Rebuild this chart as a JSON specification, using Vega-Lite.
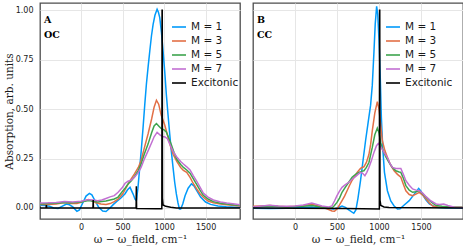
{
"$schema": "https://vega.github.io/schema/vega-lite/v6.json",
"padding": {"left": 3, "top": 2, "right": 2, "bottom": 0},
"spacing": 11,
"data": {"values": [
{"p":"A","s":"M = 1","x":-495,"y":0.013},{"p":"A","s":"M = 1","x":-440,"y":0.012},{"p":"A","s":"M = 1","x":-380,"y":0.008},{"p":"A","s":"M = 1","x":-330,"y":0.0},{"p":"A","s":"M = 1","x":-277,"y":-0.003},{"p":"A","s":"M = 1","x":-230,"y":0.008},{"p":"A","s":"M = 1","x":-177,"y":0.02},{"p":"A","s":"M = 1","x":-140,"y":0.016},{"p":"A","s":"M = 1","x":-100,"y":0.005},{"p":"A","s":"M = 1","x":-50,"y":-0.017},{"p":"A","s":"M = 1","x":-20,"y":-0.01},{"p":"A","s":"M = 1","x":20,"y":0.025},{"p":"A","s":"M = 1","x":60,"y":0.06},{"p":"A","s":"M = 1","x":100,"y":0.074},{"p":"A","s":"M = 1","x":130,"y":0.066},{"p":"A","s":"M = 1","x":170,"y":0.035},{"p":"A","s":"M = 1","x":210,"y":0.005},{"p":"A","s":"M = 1","x":260,"y":-0.016},{"p":"A","s":"M = 1","x":300,"y":-0.018},{"p":"A","s":"M = 1","x":345,"y":-0.002},{"p":"A","s":"M = 1","x":390,"y":0.018},{"p":"A","s":"M = 1","x":430,"y":0.033},{"p":"A","s":"M = 1","x":480,"y":0.05},{"p":"A","s":"M = 1","x":530,"y":0.072},{"p":"A","s":"M = 1","x":560,"y":0.092},{"p":"A","s":"M = 1","x":590,"y":0.104},{"p":"A","s":"M = 1","x":627,"y":0.07},{"p":"A","s":"M = 1","x":650,"y":0.045},{"p":"A","s":"M = 1","x":666,"y":0.037},{"p":"A","s":"M = 1","x":685,"y":0.1},{"p":"A","s":"M = 1","x":707,"y":0.205},{"p":"A","s":"M = 1","x":727,"y":0.3},{"p":"A","s":"M = 1","x":747,"y":0.407},{"p":"A","s":"M = 1","x":767,"y":0.52},{"p":"A","s":"M = 1","x":787,"y":0.626},{"p":"A","s":"M = 1","x":808,"y":0.715},{"p":"A","s":"M = 1","x":828,"y":0.794},{"p":"A","s":"M = 1","x":848,"y":0.87},{"p":"A","s":"M = 1","x":868,"y":0.929},{"p":"A","s":"M = 1","x":890,"y":0.975},{"p":"A","s":"M = 1","x":916,"y":1.005},{"p":"A","s":"M = 1","x":932,"y":0.99},{"p":"A","s":"M = 1","x":948,"y":0.963},{"p":"A","s":"M = 1","x":968,"y":0.89},{"p":"A","s":"M = 1","x":988,"y":0.794},{"p":"A","s":"M = 1","x":1008,"y":0.69},{"p":"A","s":"M = 1","x":1027,"y":0.576},{"p":"A","s":"M = 1","x":1048,"y":0.47},{"p":"A","s":"M = 1","x":1068,"y":0.374},{"p":"A","s":"M = 1","x":1088,"y":0.285},{"p":"A","s":"M = 1","x":1108,"y":0.205},{"p":"A","s":"M = 1","x":1128,"y":0.13},{"p":"A","s":"M = 1","x":1148,"y":0.071},{"p":"A","s":"M = 1","x":1168,"y":0.025},{"p":"A","s":"M = 1","x":1185,"y":-0.005},{"p":"A","s":"M = 1","x":1200,"y":-0.005},{"p":"A","s":"M = 1","x":1225,"y":0.02},{"p":"A","s":"M = 1","x":1253,"y":0.062},{"p":"A","s":"M = 1","x":1290,"y":0.1},{"p":"A","s":"M = 1","x":1330,"y":0.122},{"p":"A","s":"M = 1","x":1360,"y":0.112},{"p":"A","s":"M = 1","x":1394,"y":0.087},{"p":"A","s":"M = 1","x":1440,"y":0.055},{"p":"A","s":"M = 1","x":1500,"y":0.03},{"p":"A","s":"M = 1","x":1560,"y":0.018},{"p":"A","s":"M = 1","x":1650,"y":0.01},{"p":"A","s":"M = 1","x":1750,"y":0.006},{"p":"A","s":"M = 1","x":1850,"y":0.004},{"p":"A","s":"M = 1","x":1915,"y":0.004},
{"p":"A","s":"M = 3","x":-495,"y":0.017},{"p":"A","s":"M = 3","x":-400,"y":0.018},{"p":"A","s":"M = 3","x":-300,"y":0.02},{"p":"A","s":"M = 3","x":-200,"y":0.027},{"p":"A","s":"M = 3","x":-120,"y":0.022},{"p":"A","s":"M = 3","x":-50,"y":0.022},{"p":"A","s":"M = 3","x":0,"y":0.028},{"p":"A","s":"M = 3","x":50,"y":0.038},{"p":"A","s":"M = 3","x":88,"y":0.042},{"p":"A","s":"M = 3","x":130,"y":0.036},{"p":"A","s":"M = 3","x":180,"y":0.026},{"p":"A","s":"M = 3","x":240,"y":0.02},{"p":"A","s":"M = 3","x":300,"y":0.018},{"p":"A","s":"M = 3","x":350,"y":0.022},{"p":"A","s":"M = 3","x":400,"y":0.032},{"p":"A","s":"M = 3","x":446,"y":0.044},{"p":"A","s":"M = 3","x":500,"y":0.07},{"p":"A","s":"M = 3","x":540,"y":0.1},{"p":"A","s":"M = 3","x":566,"y":0.12},{"p":"A","s":"M = 3","x":600,"y":0.145},{"p":"A","s":"M = 3","x":643,"y":0.172},{"p":"A","s":"M = 3","x":690,"y":0.205},{"p":"A","s":"M = 3","x":723,"y":0.24},{"p":"A","s":"M = 3","x":760,"y":0.3},{"p":"A","s":"M = 3","x":807,"y":0.374},{"p":"A","s":"M = 3","x":850,"y":0.45},{"p":"A","s":"M = 3","x":880,"y":0.51},{"p":"A","s":"M = 3","x":908,"y":0.545},{"p":"A","s":"M = 3","x":935,"y":0.525},{"p":"A","s":"M = 3","x":965,"y":0.47},{"p":"A","s":"M = 3","x":1008,"y":0.42},{"p":"A","s":"M = 3","x":1040,"y":0.37},{"p":"A","s":"M = 3","x":1072,"y":0.32},{"p":"A","s":"M = 3","x":1110,"y":0.27},{"p":"A","s":"M = 3","x":1153,"y":0.235},{"p":"A","s":"M = 3","x":1200,"y":0.205},{"p":"A","s":"M = 3","x":1233,"y":0.19},{"p":"A","s":"M = 3","x":1273,"y":0.18},{"p":"A","s":"M = 3","x":1313,"y":0.155},{"p":"A","s":"M = 3","x":1350,"y":0.125},{"p":"A","s":"M = 3","x":1394,"y":0.096},{"p":"A","s":"M = 3","x":1433,"y":0.072},{"p":"A","s":"M = 3","x":1473,"y":0.054},{"p":"A","s":"M = 3","x":1530,"y":0.035},{"p":"A","s":"M = 3","x":1594,"y":0.026},{"p":"A","s":"M = 3","x":1680,"y":0.02},{"p":"A","s":"M = 3","x":1755,"y":0.016},{"p":"A","s":"M = 3","x":1850,"y":0.012},{"p":"A","s":"M = 3","x":1915,"y":0.01},
{"p":"A","s":"M = 5","x":-495,"y":0.02},{"p":"A","s":"M = 5","x":-400,"y":0.022},{"p":"A","s":"M = 5","x":-300,"y":0.024},{"p":"A","s":"M = 5","x":-200,"y":0.027},{"p":"A","s":"M = 5","x":-100,"y":0.026},{"p":"A","s":"M = 5","x":0,"y":0.03},{"p":"A","s":"M = 5","x":90,"y":0.037},{"p":"A","s":"M = 5","x":150,"y":0.034},{"p":"A","s":"M = 5","x":200,"y":0.03},{"p":"A","s":"M = 5","x":300,"y":0.035},{"p":"A","s":"M = 5","x":350,"y":0.04},{"p":"A","s":"M = 5","x":400,"y":0.045},{"p":"A","s":"M = 5","x":446,"y":0.055},{"p":"A","s":"M = 5","x":500,"y":0.085},{"p":"A","s":"M = 5","x":530,"y":0.1},{"p":"A","s":"M = 5","x":566,"y":0.121},{"p":"A","s":"M = 5","x":600,"y":0.135},{"p":"A","s":"M = 5","x":643,"y":0.158},{"p":"A","s":"M = 5","x":690,"y":0.19},{"p":"A","s":"M = 5","x":723,"y":0.222},{"p":"A","s":"M = 5","x":760,"y":0.27},{"p":"A","s":"M = 5","x":807,"y":0.323},{"p":"A","s":"M = 5","x":850,"y":0.38},{"p":"A","s":"M = 5","x":880,"y":0.415},{"p":"A","s":"M = 5","x":908,"y":0.427},{"p":"A","s":"M = 5","x":935,"y":0.415},{"p":"A","s":"M = 5","x":964,"y":0.402},{"p":"A","s":"M = 5","x":1000,"y":0.395},{"p":"A","s":"M = 5","x":1027,"y":0.385},{"p":"A","s":"M = 5","x":1060,"y":0.35},{"p":"A","s":"M = 5","x":1088,"y":0.32},{"p":"A","s":"M = 5","x":1120,"y":0.28},{"p":"A","s":"M = 5","x":1153,"y":0.246},{"p":"A","s":"M = 5","x":1200,"y":0.22},{"p":"A","s":"M = 5","x":1233,"y":0.205},{"p":"A","s":"M = 5","x":1273,"y":0.192},{"p":"A","s":"M = 5","x":1313,"y":0.176},{"p":"A","s":"M = 5","x":1350,"y":0.15},{"p":"A","s":"M = 5","x":1394,"y":0.118},{"p":"A","s":"M = 5","x":1433,"y":0.09},{"p":"A","s":"M = 5","x":1473,"y":0.064},{"p":"A","s":"M = 5","x":1530,"y":0.045},{"p":"A","s":"M = 5","x":1594,"y":0.032},{"p":"A","s":"M = 5","x":1680,"y":0.024},{"p":"A","s":"M = 5","x":1755,"y":0.02},{"p":"A","s":"M = 5","x":1850,"y":0.015},{"p":"A","s":"M = 5","x":1915,"y":0.013},
{"p":"A","s":"M = 7","x":-495,"y":0.025},{"p":"A","s":"M = 7","x":-400,"y":0.026},{"p":"A","s":"M = 7","x":-300,"y":0.028},{"p":"A","s":"M = 7","x":-200,"y":0.032},{"p":"A","s":"M = 7","x":-100,"y":0.03},{"p":"A","s":"M = 7","x":0,"y":0.034},{"p":"A","s":"M = 7","x":90,"y":0.042},{"p":"A","s":"M = 7","x":150,"y":0.04},{"p":"A","s":"M = 7","x":200,"y":0.036},{"p":"A","s":"M = 7","x":250,"y":0.04},{"p":"A","s":"M = 7","x":300,"y":0.048},{"p":"A","s":"M = 7","x":349,"y":0.056},{"p":"A","s":"M = 7","x":400,"y":0.062},{"p":"A","s":"M = 7","x":446,"y":0.079},{"p":"A","s":"M = 7","x":500,"y":0.105},{"p":"A","s":"M = 7","x":530,"y":0.125},{"p":"A","s":"M = 7","x":566,"y":0.135},{"p":"A","s":"M = 7","x":600,"y":0.14},{"p":"A","s":"M = 7","x":643,"y":0.155},{"p":"A","s":"M = 7","x":690,"y":0.18},{"p":"A","s":"M = 7","x":723,"y":0.205},{"p":"A","s":"M = 7","x":760,"y":0.245},{"p":"A","s":"M = 7","x":807,"y":0.289},{"p":"A","s":"M = 7","x":850,"y":0.33},{"p":"A","s":"M = 7","x":880,"y":0.36},{"p":"A","s":"M = 7","x":916,"y":0.382},{"p":"A","s":"M = 7","x":950,"y":0.37},{"p":"A","s":"M = 7","x":985,"y":0.36},{"p":"A","s":"M = 7","x":1008,"y":0.36},{"p":"A","s":"M = 7","x":1040,"y":0.35},{"p":"A","s":"M = 7","x":1072,"y":0.32},{"p":"A","s":"M = 7","x":1110,"y":0.285},{"p":"A","s":"M = 7","x":1153,"y":0.258},{"p":"A","s":"M = 7","x":1200,"y":0.235},{"p":"A","s":"M = 7","x":1233,"y":0.222},{"p":"A","s":"M = 7","x":1273,"y":0.208},{"p":"A","s":"M = 7","x":1313,"y":0.192},{"p":"A","s":"M = 7","x":1350,"y":0.165},{"p":"A","s":"M = 7","x":1394,"y":0.135},{"p":"A","s":"M = 7","x":1433,"y":0.105},{"p":"A","s":"M = 7","x":1473,"y":0.075},{"p":"A","s":"M = 7","x":1530,"y":0.055},{"p":"A","s":"M = 7","x":1594,"y":0.04},{"p":"A","s":"M = 7","x":1680,"y":0.03},{"p":"A","s":"M = 7","x":1755,"y":0.025},{"p":"A","s":"M = 7","x":1850,"y":0.02},{"p":"A","s":"M = 7","x":1915,"y":0.016},
{"p":"A","s":"Excitonic","x":-495,"y":0},{"p":"A","s":"Excitonic","x":-422,"y":0},{"p":"A","s":"Excitonic","x":-418,"y":0.015},{"p":"A","s":"Excitonic","x":-414,"y":0},{"p":"A","s":"Excitonic","x":143,"y":0},{"p":"A","s":"Excitonic","x":146,"y":0.04},{"p":"A","s":"Excitonic","x":149,"y":0},{"p":"A","s":"Excitonic","x":663,"y":0},{"p":"A","s":"Excitonic","x":666,"y":0.11},{"p":"A","s":"Excitonic","x":669,"y":-0.003},{"p":"A","s":"Excitonic","x":900,"y":-0.004},{"p":"A","s":"Excitonic","x":973,"y":-0.004},{"p":"A","s":"Excitonic","x":976,"y":1.0},{"p":"A","s":"Excitonic","x":978,"y":1.0},{"p":"A","s":"Excitonic","x":981,"y":0.05},{"p":"A","s":"Excitonic","x":988,"y":0.015},{"p":"A","s":"Excitonic","x":1020,"y":0.008},{"p":"A","s":"Excitonic","x":1080,"y":0.003},{"p":"A","s":"Excitonic","x":1150,"y":0},{"p":"A","s":"Excitonic","x":1915,"y":0},
{"p":"B","s":"M = 1","x":-500,"y":-0.002},{"p":"B","s":"M = 1","x":-300,"y":-0.003},{"p":"B","s":"M = 1","x":-100,"y":-0.002},{"p":"B","s":"M = 1","x":100,"y":0.002},{"p":"B","s":"M = 1","x":200,"y":0.005},{"p":"B","s":"M = 1","x":300,"y":0.0},{"p":"B","s":"M = 1","x":400,"y":-0.003},{"p":"B","s":"M = 1","x":460,"y":-0.005},{"p":"B","s":"M = 1","x":520,"y":0.002},{"p":"B","s":"M = 1","x":560,"y":0.01},{"p":"B","s":"M = 1","x":600,"y":0.003},{"p":"B","s":"M = 1","x":640,"y":-0.01},{"p":"B","s":"M = 1","x":700,"y":-0.027},{"p":"B","s":"M = 1","x":725,"y":-0.01},{"p":"B","s":"M = 1","x":750,"y":0.05},{"p":"B","s":"M = 1","x":780,"y":0.138},{"p":"B","s":"M = 1","x":810,"y":0.24},{"p":"B","s":"M = 1","x":840,"y":0.34},{"p":"B","s":"M = 1","x":870,"y":0.43},{"p":"B","s":"M = 1","x":900,"y":0.52},{"p":"B","s":"M = 1","x":920,"y":0.62},{"p":"B","s":"M = 1","x":940,"y":0.79},{"p":"B","s":"M = 1","x":955,"y":0.93},{"p":"B","s":"M = 1","x":972,"y":1.02},{"p":"B","s":"M = 1","x":985,"y":0.98},{"p":"B","s":"M = 1","x":1000,"y":0.85},{"p":"B","s":"M = 1","x":1015,"y":0.66},{"p":"B","s":"M = 1","x":1028,"y":0.46},{"p":"B","s":"M = 1","x":1045,"y":0.3},{"p":"B","s":"M = 1","x":1065,"y":0.18},{"p":"B","s":"M = 1","x":1100,"y":0.087},{"p":"B","s":"M = 1","x":1140,"y":0.035},{"p":"B","s":"M = 1","x":1180,"y":0.01},{"p":"B","s":"M = 1","x":1220,"y":-0.005},{"p":"B","s":"M = 1","x":1250,"y":-0.004},{"p":"B","s":"M = 1","x":1300,"y":0.015},{"p":"B","s":"M = 1","x":1360,"y":0.037},{"p":"B","s":"M = 1","x":1420,"y":0.07},{"p":"B","s":"M = 1","x":1472,"y":0.099},{"p":"B","s":"M = 1","x":1500,"y":0.085},{"p":"B","s":"M = 1","x":1530,"y":0.06},{"p":"B","s":"M = 1","x":1560,"y":0.04},{"p":"B","s":"M = 1","x":1600,"y":0.02},{"p":"B","s":"M = 1","x":1680,"y":0.003},{"p":"B","s":"M = 1","x":1800,"y":0.0},{"p":"B","s":"M = 1","x":2000,"y":0.0},
{"p":"B","s":"M = 3","x":-500,"y":0.008},{"p":"B","s":"M = 3","x":-400,"y":0.01},{"p":"B","s":"M = 3","x":-300,"y":0.012},{"p":"B","s":"M = 3","x":-200,"y":0.008},{"p":"B","s":"M = 3","x":-100,"y":0.006},{"p":"B","s":"M = 3","x":0,"y":0.008},{"p":"B","s":"M = 3","x":100,"y":0.012},{"p":"B","s":"M = 3","x":200,"y":0.018},{"p":"B","s":"M = 3","x":260,"y":0.012},{"p":"B","s":"M = 3","x":320,"y":0.005},{"p":"B","s":"M = 3","x":380,"y":-0.005},{"p":"B","s":"M = 3","x":440,"y":-0.015},{"p":"B","s":"M = 3","x":470,"y":-0.017},{"p":"B","s":"M = 3","x":500,"y":-0.005},{"p":"B","s":"M = 3","x":530,"y":0.015},{"p":"B","s":"M = 3","x":560,"y":0.037},{"p":"B","s":"M = 3","x":590,"y":0.06},{"p":"B","s":"M = 3","x":620,"y":0.087},{"p":"B","s":"M = 3","x":650,"y":0.115},{"p":"B","s":"M = 3","x":680,"y":0.14},{"p":"B","s":"M = 3","x":710,"y":0.16},{"p":"B","s":"M = 3","x":740,"y":0.18},{"p":"B","s":"M = 3","x":780,"y":0.2},{"p":"B","s":"M = 3","x":800,"y":0.205},{"p":"B","s":"M = 3","x":820,"y":0.208},{"p":"B","s":"M = 3","x":850,"y":0.23},{"p":"B","s":"M = 3","x":880,"y":0.27},{"p":"B","s":"M = 3","x":900,"y":0.32},{"p":"B","s":"M = 3","x":920,"y":0.39},{"p":"B","s":"M = 3","x":950,"y":0.48},{"p":"B","s":"M = 3","x":980,"y":0.538},{"p":"B","s":"M = 3","x":1000,"y":0.5},{"p":"B","s":"M = 3","x":1020,"y":0.42},{"p":"B","s":"M = 3","x":1040,"y":0.34},{"p":"B","s":"M = 3","x":1070,"y":0.29},{"p":"B","s":"M = 3","x":1100,"y":0.256},{"p":"B","s":"M = 3","x":1140,"y":0.215},{"p":"B","s":"M = 3","x":1180,"y":0.188},{"p":"B","s":"M = 3","x":1220,"y":0.17},{"p":"B","s":"M = 3","x":1260,"y":0.155},{"p":"B","s":"M = 3","x":1290,"y":0.12},{"p":"B","s":"M = 3","x":1320,"y":0.087},{"p":"B","s":"M = 3","x":1360,"y":0.068},{"p":"B","s":"M = 3","x":1400,"y":0.062},{"p":"B","s":"M = 3","x":1440,"y":0.07},{"p":"B","s":"M = 3","x":1480,"y":0.079},{"p":"B","s":"M = 3","x":1520,"y":0.065},{"p":"B","s":"M = 3","x":1560,"y":0.045},{"p":"B","s":"M = 3","x":1600,"y":0.025},{"p":"B","s":"M = 3","x":1640,"y":0.01},{"p":"B","s":"M = 3","x":1700,"y":0.005},{"p":"B","s":"M = 3","x":1800,"y":0.004},{"p":"B","s":"M = 3","x":2000,"y":0.003},
{"p":"B","s":"M = 5","x":-500,"y":0.005},{"p":"B","s":"M = 5","x":-300,"y":0.008},{"p":"B","s":"M = 5","x":-100,"y":0.005},{"p":"B","s":"M = 5","x":100,"y":0.008},{"p":"B","s":"M = 5","x":200,"y":0.012},{"p":"B","s":"M = 5","x":300,"y":0.005},{"p":"B","s":"M = 5","x":400,"y":0.0},{"p":"B","s":"M = 5","x":440,"y":0.0},{"p":"B","s":"M = 5","x":470,"y":0.012},{"p":"B","s":"M = 5","x":500,"y":0.028},{"p":"B","s":"M = 5","x":530,"y":0.05},{"p":"B","s":"M = 5","x":560,"y":0.079},{"p":"B","s":"M = 5","x":600,"y":0.105},{"p":"B","s":"M = 5","x":640,"y":0.13},{"p":"B","s":"M = 5","x":680,"y":0.155},{"p":"B","s":"M = 5","x":700,"y":0.163},{"p":"B","s":"M = 5","x":730,"y":0.172},{"p":"B","s":"M = 5","x":760,"y":0.18},{"p":"B","s":"M = 5","x":790,"y":0.185},{"p":"B","s":"M = 5","x":820,"y":0.188},{"p":"B","s":"M = 5","x":850,"y":0.205},{"p":"B","s":"M = 5","x":880,"y":0.23},{"p":"B","s":"M = 5","x":920,"y":0.306},{"p":"B","s":"M = 5","x":950,"y":0.37},{"p":"B","s":"M = 5","x":980,"y":0.404},{"p":"B","s":"M = 5","x":1000,"y":0.38},{"p":"B","s":"M = 5","x":1020,"y":0.33},{"p":"B","s":"M = 5","x":1040,"y":0.298},{"p":"B","s":"M = 5","x":1080,"y":0.26},{"p":"B","s":"M = 5","x":1120,"y":0.23},{"p":"B","s":"M = 5","x":1160,"y":0.205},{"p":"B","s":"M = 5","x":1200,"y":0.188},{"p":"B","s":"M = 5","x":1240,"y":0.182},{"p":"B","s":"M = 5","x":1260,"y":0.18},{"p":"B","s":"M = 5","x":1290,"y":0.15},{"p":"B","s":"M = 5","x":1320,"y":0.113},{"p":"B","s":"M = 5","x":1360,"y":0.09},{"p":"B","s":"M = 5","x":1400,"y":0.079},{"p":"B","s":"M = 5","x":1440,"y":0.082},{"p":"B","s":"M = 5","x":1480,"y":0.087},{"p":"B","s":"M = 5","x":1520,"y":0.072},{"p":"B","s":"M = 5","x":1560,"y":0.054},{"p":"B","s":"M = 5","x":1620,"y":0.03},{"p":"B","s":"M = 5","x":1680,"y":0.012},{"p":"B","s":"M = 5","x":1750,"y":0.008},{"p":"B","s":"M = 5","x":1850,"y":0.005},{"p":"B","s":"M = 5","x":2000,"y":0.004},
{"p":"B","s":"M = 7","x":-500,"y":0.005},{"p":"B","s":"M = 7","x":-400,"y":0.01},{"p":"B","s":"M = 7","x":-300,"y":0.014},{"p":"B","s":"M = 7","x":-200,"y":0.01},{"p":"B","s":"M = 7","x":-100,"y":0.008},{"p":"B","s":"M = 7","x":0,"y":0.01},{"p":"B","s":"M = 7","x":100,"y":0.015},{"p":"B","s":"M = 7","x":200,"y":0.025},{"p":"B","s":"M = 7","x":260,"y":0.018},{"p":"B","s":"M = 7","x":320,"y":0.01},{"p":"B","s":"M = 7","x":400,"y":0.005},{"p":"B","s":"M = 7","x":440,"y":0.01},{"p":"B","s":"M = 7","x":470,"y":0.035},{"p":"B","s":"M = 7","x":500,"y":0.062},{"p":"B","s":"M = 7","x":530,"y":0.085},{"p":"B","s":"M = 7","x":560,"y":0.104},{"p":"B","s":"M = 7","x":600,"y":0.118},{"p":"B","s":"M = 7","x":640,"y":0.13},{"p":"B","s":"M = 7","x":680,"y":0.145},{"p":"B","s":"M = 7","x":720,"y":0.158},{"p":"B","s":"M = 7","x":750,"y":0.17},{"p":"B","s":"M = 7","x":780,"y":0.18},{"p":"B","s":"M = 7","x":805,"y":0.175},{"p":"B","s":"M = 7","x":832,"y":0.163},{"p":"B","s":"M = 7","x":855,"y":0.18},{"p":"B","s":"M = 7","x":880,"y":0.205},{"p":"B","s":"M = 7","x":910,"y":0.24},{"p":"B","s":"M = 7","x":940,"y":0.281},{"p":"B","s":"M = 7","x":970,"y":0.315},{"p":"B","s":"M = 7","x":992,"y":0.326},{"p":"B","s":"M = 7","x":1020,"y":0.31},{"p":"B","s":"M = 7","x":1060,"y":0.281},{"p":"B","s":"M = 7","x":1100,"y":0.255},{"p":"B","s":"M = 7","x":1130,"y":0.225},{"p":"B","s":"M = 7","x":1160,"y":0.205},{"p":"B","s":"M = 7","x":1200,"y":0.2},{"p":"B","s":"M = 7","x":1230,"y":0.2},{"p":"B","s":"M = 7","x":1260,"y":0.2},{"p":"B","s":"M = 7","x":1290,"y":0.17},{"p":"B","s":"M = 7","x":1320,"y":0.138},{"p":"B","s":"M = 7","x":1360,"y":0.115},{"p":"B","s":"M = 7","x":1400,"y":0.096},{"p":"B","s":"M = 7","x":1440,"y":0.09},{"p":"B","s":"M = 7","x":1480,"y":0.087},{"p":"B","s":"M = 7","x":1520,"y":0.075},{"p":"B","s":"M = 7","x":1560,"y":0.057},{"p":"B","s":"M = 7","x":1620,"y":0.035},{"p":"B","s":"M = 7","x":1680,"y":0.02},{"p":"B","s":"M = 7","x":1720,"y":0.018},{"p":"B","s":"M = 7","x":1770,"y":0.02},{"p":"B","s":"M = 7","x":1820,"y":0.012},{"p":"B","s":"M = 7","x":1900,"y":0.004},{"p":"B","s":"M = 7","x":2000,"y":0.002},
{"p":"B","s":"Excitonic","x":-500,"y":0},{"p":"B","s":"Excitonic","x":600,"y":-0.003},{"p":"B","s":"Excitonic","x":1004,"y":-0.005},{"p":"B","s":"Excitonic","x":1007,"y":1.0},{"p":"B","s":"Excitonic","x":1009,"y":1.0},{"p":"B","s":"Excitonic","x":1012,"y":0.04},{"p":"B","s":"Excitonic","x":1022,"y":0.012},{"p":"B","s":"Excitonic","x":1060,"y":0.005},{"p":"B","s":"Excitonic","x":1120,"y":0.002},{"p":"B","s":"Excitonic","x":2000,"y":0}
]},
"config": {
  "view": {"stroke": "#4d4d4d", "strokeWidth": 1.3},
  "axis": {"gridColor": "#e6e6e6", "gridWidth": 1, "domain": false, "ticks": false, "labelFont": "DejaVu Sans", "labelFontSize": 8, "labelColor": "#1a1a1a", "titleFont": "DejaVu Serif", "titleFontWeight": "normal", "titleFontSize": 10.5, "titleColor": "#1a1a1a"},
  "legend": {"orient": "none", "title": null, "symbolType": "stroke", "symbolSize": 196, "symbolStrokeWidth": 1.6, "labelFont": "DejaVu Sans", "labelFontSize": 10.5, "labelColor": "#1a1a1a", "rowPadding": 0, "labelOffset": 4, "padding": 0}
},
"resolve": {"scale": {"color": "independent"}, "legend": {"color": "independent"}},
"hconcat": [
{
  "width": 200, "height": 216,
  "title": {"text": ["A", "OC"], "anchor": "start", "frame": "group", "orient": "top", "offset": -36, "dx": 4, "font": "DejaVu Serif", "fontSize": 9.5, "fontWeight": "bold", "lineHeight": 15, "color": "#000"},
  "transform": [{"filter": "datum.p === 'A'"}],
  "mark": {"type": "line", "strokeWidth": 1.5, "clip": true},
  "encoding": {
    "x": {"field": "x", "type": "quantitative", "scale": {"domain": [-495, 1915], "nice": false, "zero": false}, "axis": {"values": [0, 500, 1000, 1500], "format": "d", "title": "ω − ω_field, cm⁻¹", "labelPadding": 4, "titlePadding": 3}},
    "y": {"field": "y", "type": "quantitative", "scale": {"domain": [-0.056, 1.037], "nice": false, "zero": false}, "axis": {"values": [0, 0.25, 0.5, 0.75, 1], "format": ".2f", "title": "Absorption, arb. units", "labelPadding": 7, "titlePadding": 1}},
    "color": {"field": "s", "type": "nominal", "scale": {"domain": ["M = 1", "M = 3", "M = 5", "M = 7", "Excitonic"], "range": ["#009AFA", "#E26F46", "#3DA44D", "#C270D2", "#000000"]}, "legend": {"legendX": 131, "legendY": 16}}
  }
},
{
  "width": 210, "height": 216,
  "title": {"text": ["B", "CC"], "anchor": "start", "frame": "group", "orient": "top", "offset": -36, "dx": 4, "font": "DejaVu Serif", "fontSize": 9.5, "fontWeight": "bold", "lineHeight": 15, "color": "#000"},
  "transform": [{"filter": "datum.p === 'B'"}],
  "mark": {"type": "line", "strokeWidth": 1.5, "clip": true},
  "encoding": {
    "x": {"field": "x", "type": "quantitative", "scale": {"domain": [-500, 2000], "nice": false, "zero": false}, "axis": {"values": [0, 500, 1000, 1500], "format": "d", "title": "ω − ω_field, cm⁻¹", "labelPadding": 4, "titlePadding": 3}},
    "y": {"field": "y", "type": "quantitative", "scale": {"domain": [-0.056, 1.037], "nice": false, "zero": false}, "axis": {"values": [0, 0.25, 0.5, 0.75, 1], "labels": false, "title": null}},
    "color": {"field": "s", "type": "nominal", "scale": {"domain": ["M = 1", "M = 3", "M = 5", "M = 7", "Excitonic"], "range": ["#009AFA", "#E26F46", "#3DA44D", "#C270D2", "#000000"]}, "legend": {"legendX": 132, "legendY": 16}}
  }
}
]
}
